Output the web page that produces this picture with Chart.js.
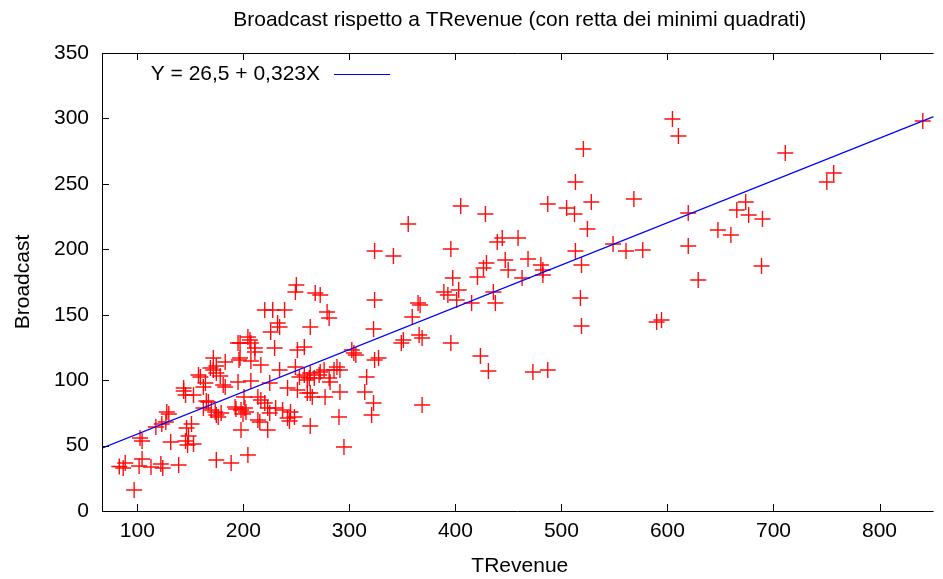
<!DOCTYPE html>
<html><head><meta charset="utf-8">
<script src="https://cdn.jsdelivr.net/npm/chart.js@4.4.1/dist/chart.umd.min.js"></script>
<style>html,body{margin:0;padding:0;background:#fff;}#wrap{width:943px;height:579px;}</style>
</head><body><div id="wrap"><canvas id="c" width="943" height="579"></canvas></div>
<script>
const chartTitle = "Broadcast rispetto a TRevenue (con retta dei minimi quadrati)";
const xTitle = "TRevenue";
const yTitle = "Broadcast";
const legendLabel = "Y = 26,5 + 0,323X";
const fitIntercept = 26.5;
const fitSlope = 0.323;
const xRange = [66.7, 851];
const yRange = [0, 350];
const xTickValues = [100, 200, 300, 400, 500, 600, 700, 800];
const yTickValues = [0, 50, 100, 150, 200, 250, 300, 350];

const tRevenue = [
97,83,88.6,86.7,104.5,101.7,112.9,122.2,124,139,102.6,104.5,117.5,123.1,126.9,127.8,129.7,131.5,146.5,151.1,145.5,147.4,153,148.3,143.7,145.5,153,143.7,
157.7,159.5,162.3,164.2,165.1,167,162.3,169.8,173.5,174.5,179.1,176.3,168.9,171.7,171.7,174.5,174.5,178.2,182.9,181,182.9,192.2,193.1,197.8,199.7,202.5,201.5,195,196.9,204.3,206.2,207.1,210.9,210.9,196.9,195.9,207.1,195,207.1,200.6,174.5,188.5,204.3,197.8,213.7,216.5,
220.2,227.7,238.9,250,249.1,232.3,234.2,225.8,229.5,251,257.5,263.1,216.5,234.2,249.1,252.9,262.2,224.9,241.7,251,260.3,265,220.2,223,224.9,230.5,237,241.7,243.5,213.7,215.5,263.1,223,248.2,244.5,267.8,
272.5,279,280.9,304.2,302.3,276.2,288.3,285.5,291.1,271.5,257.5,260.3,266.9,280.9,281.8,263.1,272.5,291.1,277.1,263.1,290.2,306.1,316.3,314.5,322.8,321,327.5,323.8,322.8,323.8,323.8,341.5,350.9,349,359.3,364.8,366.7,365.8,368.6,368.6,355.5,294.9,
395.7,405,428.3,389.1,392.9,403.1,401.2,415.3,397.5,420.8,435.8,437.7,429.3,426.5,447,449.8,444.2,439.5,459.1,468.5,462.9,480.6,482.5,482.5,487.1,395.7,423.6,431.1,473.1,487.1,
604.7,610.3,520.7,711.1,840.8,756.8,750.3,513.2,528.2,568.3,504.9,512.3,524.5,619.6,673.8,665.4,676.6,689.6,647.6,659.8,513.2,548.7,560.9,576.7,619.6,518.9,688.7,629,517.9,518.9,589.8,594.4
];
const broadcast = [
16,34,36.7,32.9,39.7,34.4,33.6,35.9,32.9,35.2,55.8,53.5,64.2,66.5,68,75.7,74.1,52.7,63.4,66.5,53.5,50.4,51.2,57.3,91.7,88.6,88.6,94,
103.9,102.4,94.8,97.8,84.1,83.3,78.7,77.2,75.7,73.4,74.9,71.8,109.3,116.9,107.8,110.8,105.5,103.2,113.9,96.3,94.8,79.5,77.9,77.2,74.1,75.7,78.7,128.4,128.4,133,130.7,128.4,124.6,121.5,116.9,115.4,114.6,98.6,99.3,87.1,39,36.7,42.8,61.9,87.1,84.8,
153.6,153.6,153.6,172.7,167.4,143.7,140.6,136.8,124.6,123,125.3,140.6,111.6,107.8,110,102.4,101.6,97.8,94,92.5,90.2,87.1,82.5,78.7,74.9,78.7,77.2,71.1,68.8,69.5,68,65,61.9,71.8,75.7,166.6,
165.1,152.1,147.5,120.7,123,107.8,110,107.8,107.8,103.9,103.9,100.1,101.6,101.6,98.6,105.5,106.2,90.9,87.1,90.2,71.8,119.2,102.4,90.9,82.5,73.4,116.9,115.4,139.1,161.2,198.7,194.9,130.7,128.4,148.3,159,157.4,134.5,132.2,81,219.3,48.9,
200.2,233.1,227,167.4,165.1,168.9,161.2,159,178.1,178.8,167.4,159,189.5,185.7,191.8,184.2,208.6,205.6,208.6,192.6,178.1,188,184.2,180.3,234.6,128.4,118.5,107,106.2,107.8,
299.6,286.6,276.6,273.6,298,258.3,251.4,251.4,236.1,238.4,231.6,227,215.5,227.7,236.1,230,226.2,223.1,214.7,210.9,198.7,204,198.7,199.5,202.5,188,187.2,176.5,162.8,141.4,144.4,146
];

const FONT = "'Liberation Sans', Arial, Helvetica, sans-serif";
const FSIZE = 21;
const scatterData = tRevenue.map((x, i) => ({ x: x, y: broadcast[i] }));
const fitData = xRange.map(x => ({ x: x, y: fitIntercept + fitSlope * x }));

const decor = {
  id: 'decor',
  afterDraw(chart) {
    const ctx = chart.ctx, a = chart.chartArea;
    const xs = chart.scales.x, ys = chart.scales.y;
    ctx.save();
    ctx.strokeStyle = '#000'; ctx.lineWidth = 1;
    ctx.beginPath();
    ctx.moveTo(a.left + 0.5, a.top + 0.5); ctx.lineTo(a.left + 0.5, a.bottom + 0.5);
    ctx.moveTo(a.left, a.bottom + 0.5); ctx.lineTo(a.right, a.bottom + 0.5);
    ctx.moveTo(a.left, a.top + 0.5); ctx.lineTo(a.right, a.top + 0.5);
    xTickValues.forEach(v => {
      const px = Math.round(xs.getPixelForValue(v)) + 0.5;
      ctx.moveTo(px, a.bottom); ctx.lineTo(px, a.bottom - 7);
      ctx.moveTo(px, a.top); ctx.lineTo(px, a.top + 7);
    });
    yTickValues.forEach(v => {
      const py = Math.round(ys.getPixelForValue(v)) + 0.5;
      ctx.moveTo(a.left, py); ctx.lineTo(a.left + 7, py);
    });
    ctx.stroke();
    ctx.fillStyle = '#000';
    ctx.font = FSIZE + 'px ' + FONT;
    ctx.textAlign = 'center'; ctx.textBaseline = 'middle';
    const cx = (a.left + a.right) / 2 + 2;
    ctx.fillText(chartTitle, cx, 20);
    ctx.fillText(xTitle, cx, 566);
    ctx.save();
    ctx.translate(23, (a.top + a.bottom) / 2);
    ctx.rotate(-Math.PI / 2);
    ctx.fillText(yTitle, 0, 0);
    ctx.restore();
    ctx.textAlign = 'right';
    ctx.fillText(legendLabel, 320, 74);
    ctx.strokeStyle = 'rgb(0,0,255)'; ctx.lineWidth = 1.2;
    ctx.beginPath(); ctx.moveTo(334, 74.5); ctx.lineTo(390, 74.5); ctx.stroke();
    ctx.restore();
  }
};

new Chart(document.getElementById('c'), {
  data: {
    datasets: [
      { type: 'line', data: fitData, borderColor: 'rgb(0,0,255)', borderWidth: 1.2, pointRadius: 0, fill: false, order: 1 },
      { type: 'scatter', data: scatterData, pointStyle: 'cross', pointRadius: 8, pointHoverRadius: 8,
        borderColor: 'rgba(255,0,0,0.95)', backgroundColor: 'rgb(255,0,0)', pointBorderWidth: 1.4, order: 2 }
    ]
  },
  options: {
    responsive: false, animation: false, devicePixelRatio: 1,
    layout: { padding: { left: 0, right: 0, top: 53, bottom: 0 } },
    plugins: { legend: { display: false }, title: { display: false }, tooltip: { enabled: false } },
    scales: {
      x: {
        type: 'linear', position: 'bottom', min: xRange[0], max: xRange[1],
        afterBuildTicks: s => { s.ticks = xTickValues.map(v => ({ value: v })); },
        afterFit: s => { s.height = 68; },
        grid: { display: false, drawTicks: false }, border: { display: false },
        ticks: { font: { family: FONT, size: FSIZE }, color: '#000', padding: 8, maxRotation: 0, autoSkip: false }
      },
      y: {
        type: 'linear', position: 'left', min: yRange[0], max: yRange[1],
        afterBuildTicks: s => { s.ticks = yTickValues.map(v => ({ value: v })); },
        afterFit: s => { s.width = 102; },
        grid: { display: false, drawTicks: false }, border: { display: false },
        ticks: { font: { family: FONT, size: FSIZE }, color: '#000', padding: 13, autoSkip: false }
      }
    }
  },
  plugins: [decor]
});
</script></body></html>
